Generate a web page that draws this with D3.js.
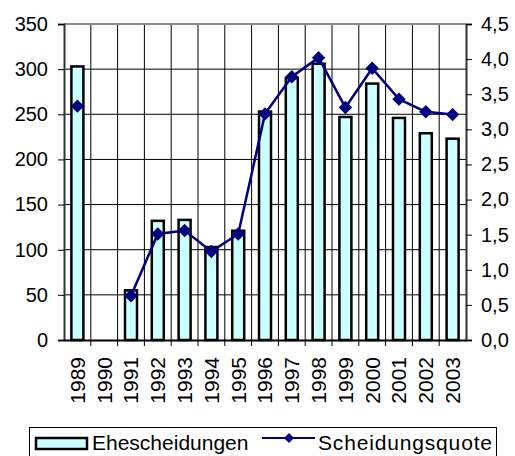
<!DOCTYPE html>
<html>
<head>
<meta charset="utf-8">
<script src="https://cdn.jsdelivr.net/npm/d3@7"></script>
<style>
  body { margin: 0; background: #fff; }
  text { font-family: "Liberation Sans", Arial, sans-serif; fill: #000; }
</style>
</head>
<body>
<div id="chart"></div>
<script>
// data
const years = ["1989","1990","1991","1992","1993","1994","1995","1996","1997","1998","1999","2000","2001","2002","2003"];
const divorces = [303, null, 55, 132, 133, 103, 121, 253, 290, 306, 247, 284, 246, 229, 223];
const quota = [3.33, null, 0.63, 1.51, 1.56, 1.26, 1.51, 3.22, 3.75, 4.02, 3.31, 3.87, 3.43, 3.25, 3.21];
const leftTicks = [0, 50, 100, 150, 200, 250, 300, 350];
const rightTicks = [0, 0.5, 1, 1.5, 2, 2.5, 3, 3.5, 4, 4.5];

const W = 515, H = 456;
const plot = {left: 64, right: 466, top: 24, bottom: 340};
const fs = 20;

const svg = d3.select("#chart").append("svg")
    .attr("width", W)
    .attr("height", H);

const x = d3.scaleBand()
    .domain(years)
    .range([plot.left, plot.right]);

const yL = d3.scaleLinear().domain([0, 350]).range([plot.bottom, plot.top]);
const yR = d3.scaleLinear().domain([0, 4.5]).range([plot.bottom, plot.top]);

const fmtR = d => d3.format(".1f")(d).replace(".", ",");

// horizontal grid
svg.append("g")
  .selectAll("line")
  .data(leftTicks.slice(1, -1))
  .join("line")
    .attr("x1", plot.left).attr("x2", plot.right)
    .attr("y1", d => yL(d)).attr("y2", d => yL(d))
    .attr("stroke", "#000").attr("stroke-width", 1);

// vertical grid at category boundaries
svg.append("g")
  .selectAll("line")
  .data(years.slice(1))
  .join("line")
    .attr("x1", d => x(d)).attr("x2", d => x(d))
    .attr("y1", plot.top).attr("y2", plot.bottom + 6)
    .attr("stroke", "#000").attr("stroke-width", 1);

// top border
svg.append("line")
    .attr("x1", plot.left).attr("x2", plot.right)
    .attr("y1", plot.top).attr("y2", plot.top)
    .attr("stroke", "#8c8c8c").attr("stroke-width", 2);

// bars
const bw = 12;
svg.append("g")
  .selectAll("rect")
  .data(years.map((y, i) => ({year: y, v: divorces[i]})).filter(d => d.v != null))
  .join("rect")
    .attr("x", d => x(d.year) + x.bandwidth() / 2 - bw / 2)
    .attr("y", d => yL(d.v))
    .attr("width", bw)
    .attr("height", d => yL(0) - yL(d.v))
    .attr("fill", "#ccffff")
    .attr("stroke", "#000")
    .attr("stroke-width", 2.5);

// left axis
const axL = svg.append("g").attr("transform", `translate(${plot.left},0)`)
    .call(d3.axisLeft(yL).tickValues(leftTicks).tickSize(6).tickPadding(10));
axL.select(".domain").attr("stroke", "#333").attr("stroke-width", 2);
axL.selectAll(".tick line").attr("stroke", "#000");
axL.selectAll("text").attr("font-size", fs).attr("font-family", null);

// right axis
const axR = svg.append("g").attr("transform", `translate(${plot.right},0)`)
    .call(d3.axisRight(yR).tickValues(rightTicks).tickFormat(fmtR).tickSize(6).tickPadding(9));
axR.select(".domain").attr("stroke", "#333").attr("stroke-width", 2);
axR.selectAll(".tick line").attr("stroke", "#000");
axR.selectAll("text").attr("font-size", fs).attr("font-family", null);

// bottom axis
const axB = svg.append("g").attr("transform", `translate(0,${plot.bottom})`)
    .call(d3.axisBottom(x).tickSize(0).tickSizeOuter(0));
axB.select(".domain").attr("stroke", "#000").attr("stroke-width", 2);
axB.selectAll("text")
    .attr("font-size", 21).attr("font-family", null)
    .attr("text-anchor", "end")
    .attr("transform", "rotate(-90)")
    .attr("x", -17)
    .attr("y", 0)
    .attr("dy", "0.35em");

// line
const pts = years.map((y, i) => ({year: y, v: quota[i]}));
const line = d3.line()
    .defined(d => d.v != null)
    .x(d => x(d.year) + x.bandwidth() / 2)
    .y(d => yR(d.v));

svg.append("path")
    .datum(pts)
    .attr("d", line)
    .attr("fill", "none")
    .attr("stroke", "#000080")
    .attr("stroke-width", 2.5);

const diamond = d3.symbol().type(d3.symbolSquare).size(90);
svg.append("g")
  .selectAll("path")
  .data(pts.filter(d => d.v != null))
  .join("path")
    .attr("d", diamond)
    .attr("transform", d => `translate(${x(d.year) + x.bandwidth() / 2},${yR(d.v)}) rotate(45)`)
    .attr("fill", "#000080");

// legend
const lg = svg.append("g");
lg.append("rect")
    .attr("x", 29.5).attr("y", 427.5)
    .attr("width", 467).attr("height", 40)
    .attr("fill", "#fff").attr("stroke", "#000").attr("stroke-width", 1);
lg.append("rect")
    .attr("x", 36).attr("y", 438)
    .attr("width", 51).attr("height", 11)
    .attr("fill", "#ccffff").attr("stroke", "#000").attr("stroke-width", 2.5);
lg.append("text")
    .attr("x", 92).attr("y", 443).attr("dy", "0.35em")
    .attr("font-size", 21)
    .text("Ehescheidungen");
lg.append("line")
    .attr("x1", 262).attr("x2", 315)
    .attr("y1", 438).attr("y2", 438)
    .attr("stroke", "#000080").attr("stroke-width", 2);
lg.append("path")
    .attr("d", d3.symbol().type(d3.symbolSquare).size(50))
    .attr("transform", "translate(289,438) rotate(45)")
    .attr("fill", "#000080");
lg.append("text")
    .attr("x", 318).attr("y", 443).attr("dy", "0.35em")
    .attr("font-size", 21)
    .attr("textLength", 174)
    .text("Scheidungsquote");
</script>
</body>
</html>
